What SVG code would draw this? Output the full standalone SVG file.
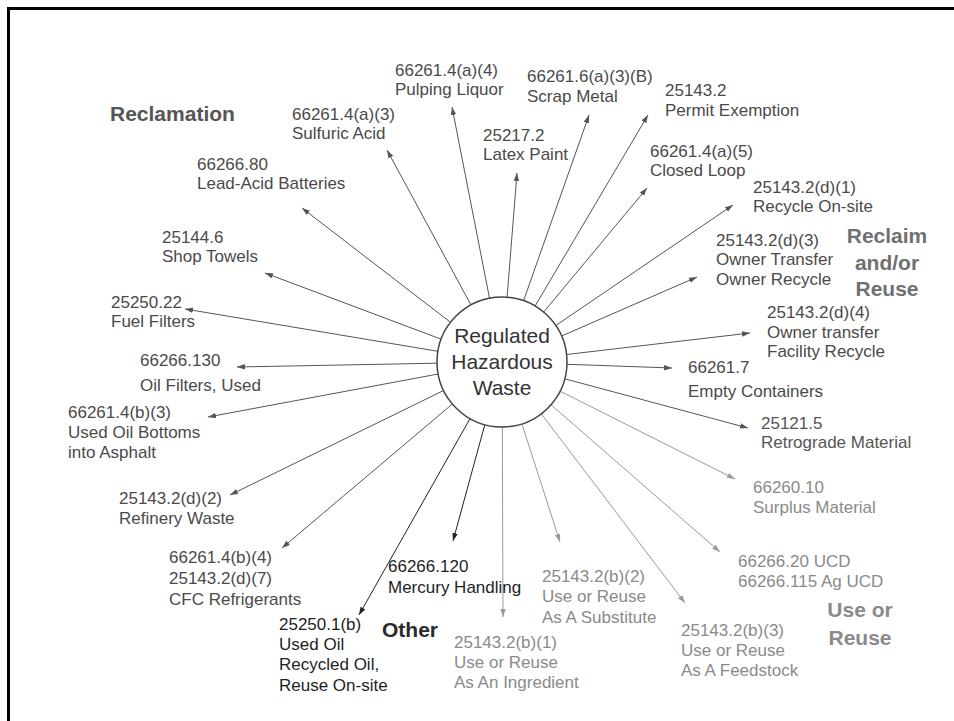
<svg xmlns="http://www.w3.org/2000/svg" width="954" height="721" viewBox="0 0 954 721">
<style>
text{font-family:"Liberation Sans",Arial,sans-serif;font-size:17px;fill:#4a4a4a}
.dk text{fill:#1e1e1e}
.lt text{fill:#8a8a8a}
.md text{fill:#555}
.hd{font-weight:bold;font-size:21px}
.c line{stroke:#555;stroke-width:1;marker-end:url(#a)}
.c line.d{stroke:#222;marker-end:url(#ad)}
.c line.l{stroke:#9a9a9a;marker-end:url(#al)}
</style>
<defs>
<marker id="a" markerUnits="userSpaceOnUse" markerWidth="9" markerHeight="7" refX="8" refY="2.75" orient="auto"><path d="M0,0 L8,2.75 L0,5.5 z" fill="#555"/></marker>
<marker id="ad" markerUnits="userSpaceOnUse" markerWidth="9" markerHeight="7" refX="8" refY="2.75" orient="auto"><path d="M0,0 L8,2.75 L0,5.5 z" fill="#222"/></marker>
<marker id="al" markerUnits="userSpaceOnUse" markerWidth="9" markerHeight="7" refX="8" refY="2.75" orient="auto"><path d="M0,0 L8,2.75 L0,5.5 z" fill="#9a9a9a"/></marker>
</defs>
<rect x="0" y="0" width="954" height="721" fill="#fff"/>
<rect x="8.5" y="8.5" width="1000" height="800" fill="none" stroke="#000" stroke-width="3"/>

<g id="connectors" class="c">
<line x1="471" y1="305" x2="387" y2="150"/>
<line x1="489.5" y1="298.2" x2="452" y2="107"/>
<line x1="507.1" y1="297.2" x2="517" y2="173"/>
<line x1="523.6" y1="300.7" x2="589" y2="115"/>
<line x1="535.1" y1="306" x2="648" y2="115"/>
<line x1="543.6" y1="312.1" x2="647" y2="188"/>
<line x1="555.8" y1="325.5" x2="733" y2="205"/>
<line x1="561.6" y1="336" x2="697" y2="277"/>
<line x1="566.6" y1="354.5" x2="750" y2="333"/>
<line x1="567" y1="364.3" x2="672" y2="368"/>
<line x1="564.8" y1="378.8" x2="748" y2="428"/>
<line class="l" x1="560.1" y1="391.2" x2="735" y2="479"/>
<line class="l" x1="551" y1="404.7" x2="720" y2="552"/>
<line class="l" x1="541.3" y1="413.8" x2="685" y2="603"/>
<line class="l" x1="521.9" y1="423.9" x2="560" y2="542"/>
<line class="l" x1="502.3" y1="427" x2="503" y2="617"/>
<line class="d" x1="484.8" y1="424.7" x2="453" y2="541"/>
<line class="d" x1="470" y1="418.6" x2="359" y2="615"/>
<line x1="452.4" y1="404" x2="282" y2="548"/>
<line x1="443.6" y1="390.5" x2="230" y2="495"/>
<line x1="438.1" y1="374" x2="208" y2="417"/>
<line x1="437" y1="363.2" x2="237" y2="367"/>
<line x1="437.9" y1="351.3" x2="185" y2="309"/>
<line x1="441.2" y1="339.2" x2="265" y2="273"/>
<line x1="450.5" y1="322.3" x2="302" y2="208"/>
</g>

<g id="hub">
<circle cx="502" cy="362" r="65" fill="#fff" stroke="#444" stroke-width="1.5"/>
<text x="502" y="343" text-anchor="middle" style="font-size:21px;fill:#333">Regulated</text>
<text x="502" y="369" text-anchor="middle" style="font-size:21px;fill:#333">Hazardous</text>
<text x="502" y="395" text-anchor="middle" style="font-size:21px;fill:#333">Waste</text>
</g>

<g id="heading-reclamation" class="md"><text class="hd" x="110" y="121">Reclamation</text></g>
<g id="heading-reclaim-reuse" class="md">
<text class="hd" x="887" y="243" text-anchor="middle" style="fill:#707070">Reclaim</text>
<text class="hd" x="887" y="270" text-anchor="middle" style="fill:#707070">and/or</text>
<text class="hd" x="887" y="296" text-anchor="middle" style="fill:#707070">Reuse</text>
</g>
<g id="heading-other" class="dk"><text class="hd" x="382" y="637" style="fill:#2a2a2a">Other</text></g>
<g id="heading-use-reuse" class="lt">
<text class="hd" x="860" y="617" text-anchor="middle">Use or</text>
<text class="hd" x="860" y="645" text-anchor="middle">Reuse</text>
</g>

<g id="n-sulfuric"><text x="292" y="120">66261.4(a)(3)</text><text x="292" y="139">Sulfuric Acid</text></g>
<g id="n-pulping"><text x="395" y="76">66261.4(a)(4)</text><text x="395" y="95">Pulping Liquor</text></g>
<g id="n-latex"><text x="483" y="141">25217.2</text><text x="483" y="160">Latex Paint</text></g>
<g id="n-scrap"><text x="527" y="82">66261.6(a)(3)(B)</text><text x="527" y="102">Scrap Metal</text></g>
<g id="n-permit"><text x="665" y="96">25143.2</text><text x="665" y="116">Permit Exemption</text></g>
<g id="n-closed"><text x="650" y="157">66261.4(a)(5)</text><text x="650" y="176">Closed Loop</text></g>
<g id="n-recycle-onsite"><text x="753" y="193">25143.2(d)(1)</text><text x="753" y="212">Recycle On-site</text></g>
<g id="n-owner-recycle"><text x="716" y="246">25143.2(d)(3)</text><text x="716" y="265">Owner Transfer</text><text x="716" y="285">Owner Recycle</text></g>
<g id="n-facility"><text x="767" y="318">25143.2(d)(4)</text><text x="767" y="338">Owner transfer</text><text x="767" y="357">Facility Recycle</text></g>
<g id="n-empty"><text x="688" y="373">66261.7</text><text x="688" y="397">Empty Containers</text></g>
<g id="n-retrograde" class="md"><text x="761" y="429">25121.5</text><text x="761" y="448">Retrograde Material</text></g>
<g id="n-surplus" class="lt"><text x="753" y="493">66260.10</text><text x="753" y="513">Surplus Material</text></g>
<g id="n-ucd" class="lt"><text x="738" y="567">66266.20 UCD</text><text x="738" y="587">66266.115 Ag UCD</text></g>
<g id="n-feedstock" class="lt"><text x="681" y="636">25143.2(b)(3)</text><text x="681" y="656">Use or Reuse</text><text x="681" y="676">As A Feedstock</text></g>
<g id="n-substitute" class="lt"><text x="542" y="582">25143.2(b)(2)</text><text x="542" y="602">Use or Reuse</text><text x="542" y="623">As A Substitute</text></g>
<g id="n-ingredient" class="lt"><text x="454" y="648">25143.2(b)(1)</text><text x="454" y="668">Use or Reuse</text><text x="454" y="688">As An Ingredient</text></g>
<g id="n-mercury" class="dk"><text x="388" y="572">66266.120</text><text x="388" y="593">Mercury Handling</text></g>
<g id="n-usedoil" class="dk"><text x="279" y="630">25250.1(b)</text><text x="279" y="650">Used Oil</text><text x="279" y="670">Recycled Oil,</text><text x="279" y="691">Reuse On-site</text></g>
<g id="n-cfc"><text x="169" y="563">66261.4(b)(4)</text><text x="169" y="584">25143.2(d)(7)</text><text x="169" y="605">CFC Refrigerants</text></g>
<g id="n-refinery"><text x="119" y="504">25143.2(d)(2)</text><text x="119" y="524">Refinery Waste</text></g>
<g id="n-bottoms"><text x="68" y="418">66261.4(b)(3)</text><text x="68" y="438">Used Oil Bottoms</text><text x="68" y="458">into Asphalt</text></g>
<g id="n-oilfilters"><text x="140" y="366">66266.130</text><text x="140" y="391">Oil Filters, Used</text></g>
<g id="n-fuelfilters"><text x="111" y="308">25250.22</text><text x="111" y="327">Fuel Filters</text></g>
<g id="n-towels"><text x="162" y="243">25144.6</text><text x="162" y="262">Shop Towels</text></g>
<g id="n-leadacid"><text x="197" y="170">66266.80</text><text x="197" y="189">Lead-Acid Batteries</text></g>
</svg>
